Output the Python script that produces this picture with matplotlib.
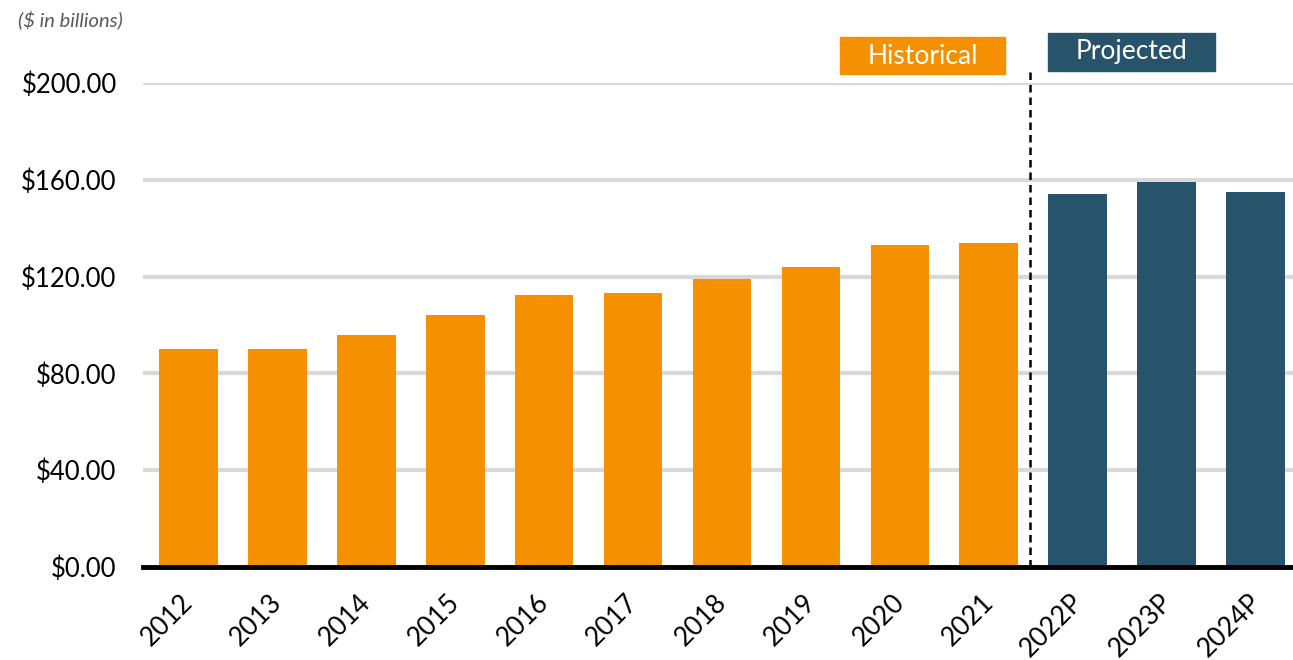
import numpy as np
import matplotlib
matplotlib.use("Agg")
import matplotlib.pyplot as plt
import matplotlib.transforms as mtransforms
from matplotlib.patches import Rectangle

plt.rcParams['font.family'] = ['Lato', 'DejaVu Sans']

years = ['2012', '2013', '2014', '2015', '2016', '2017', '2018', '2019', '2020', '2021',
         '2022P', '2023P', '2024P']
values = [90.1, 90.0, 95.9, 104.1, 112.4, 113.2, 119.0, 124.0, 133.0, 133.9,
          154.1, 159.1, 155.0]
n_hist = 10

orange = '#F59100'
teal = '#27546B'
colors = [orange] * n_hist + [teal] * (len(years) - n_hist)

fig = plt.figure(figsize=(12.93, 6.6), dpi=100)
ax = fig.add_axes([143 / 1293, 1 - 567 / 660, 1 - 143 / 1293, 484 / 660])

x = np.arange(len(years))
ax.bar(x, values, width=0.66, color=colors, zorder=3)

ax.set_ylim(0, 200)
ax.set_xlim(-0.51, 12.42)
ax.set_yticks(np.arange(0, 201, 40))
ax.set_yticklabels(['${:.2f}'.format(v) for v in np.arange(0, 201, 40)], fontsize=18.5)
ax.yaxis.grid(True, color='#D9D9D9', linewidth=3, zorder=0)
ax.set_axisbelow(True)
ax.tick_params(axis='y', length=0, pad=19)
ax.tick_params(axis='x', length=0, pad=16)
ax.set_xticks(x)
ax.set_xticklabels(years, fontsize=19, rotation=45, ha='right', va='top',
                   rotation_mode='anchor')
shift = mtransforms.ScaledTranslation(-8 / 100, 0, fig.dpi_scale_trans)
for lab in ax.get_xticklabels():
    lab.set_transform(lab.get_transform() + shift)

for s in ['top', 'right', 'left']:
    ax.spines[s].set_visible(False)
ax.spines['bottom'].set_linewidth(3.5)
ax.spines['bottom'].set_color('black')
ax.spines['bottom'].set_zorder(5)

# divider between historical and projected
ax.plot([9.46, 9.46], [0, 206], color='black', linestyle=(0, (3, 2)), linewidth=1.8,
        clip_on=False, zorder=4)

# header boxes
fig.patches.append(Rectangle((840 / 1293, 1 - 74 / 660), 165 / 1293, 37 / 660,
                             transform=fig.transFigure, color=orange, zorder=1))
fig.text(922.5 / 1293, 1 - 56 / 660, 'Historical', color='white', fontsize=19,
         ha='center', va='center')
fig.patches.append(Rectangle((1048 / 1293, 1 - 71 / 660), 167 / 1293, 38 / 660,
                             transform=fig.transFigure, color=teal, zorder=1))
fig.text(1131.5 / 1293, 1 - 52 / 660, 'Projected', color='white', fontsize=19,
         ha='center', va='center')

fig.text(18 / 1293, 1 - 20 / 660, '($ in billions)', color='#595959', fontsize=14.5,
         style='italic', ha='left', va='center')

fig.savefig('out.png', dpi=100)
